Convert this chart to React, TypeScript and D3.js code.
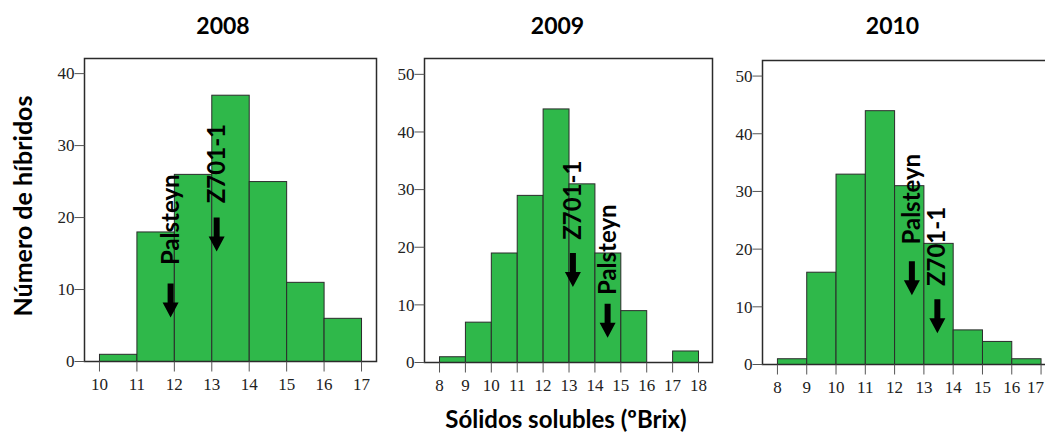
import React from "react";
import * as d3 from "d3";

// Histogram counts per year (bins of 1 ºBrix, listed by lower edge)
const years = ["2008", "2009", "2010"];

const binStarts2008 = [10, 11, 12, 13, 14, 15, 16];
const counts2008 = [1, 18, 26, 37, 25, 11, 6];

const binStarts2009 = [8, 9, 10, 11, 12, 13, 14, 15, 16, 17];
const counts2009 = [1, 7, 19, 29, 44, 31, 19, 9, 0, 2];

const binStarts2010 = [8, 9, 10, 11, 12, 13, 14, 15, 16];
const counts2010 = [1, 16, 33, 44, 31, 21, 6, 4, 1];

const xTicks2008 = [10, 11, 12, 13, 14, 15, 16, 17];
const xTicks2009 = [8, 9, 10, 11, 12, 13, 14, 15, 16, 17, 18];
const xTicks2010 = [8, 9, 10, 11, 12, 13, 14, 15, 16, 17];

const yTicks2008 = [0, 10, 20, 30, 40];
const yTicks2009 = [0, 10, 20, 30, 40, 50];
const yTicks2010 = [0, 10, 20, 30, 40, 50];

// Parent cultivars: ºBrix value, arrow tip (count units), bottom of label (count units)
const markerNames2008 = ["Palsteyn", "Z701-1"];
const markerBrix2008 = [11.9, 13.13];
const markerTip2008 = [6.1, 15.3];
const markerLabel2008 = [13.4, 22.0];

const markerNames2009 = ["Z701-1", "Palsteyn"];
const markerBrix2009 = [13.15, 14.49];
const markerTip2009 = [13.1, 4.3];
const markerLabel2009 = [21.3, 11.7];

const markerNames2010 = ["Palsteyn", "Z701-1"];
const markerBrix2010 = [12.59, 13.46];
const markerTip2010 = [12.0, 5.4];
const markerLabel2010 = [20.8, 13.6];

const yAxisTitle = "Número de híbridos";
const xAxisTitle = "Sólidos solubles (ºBrix)";

const W = 1045;
const H = 437;
const GREEN = "#2fb84a";
const LINE = "#2b2b2b";
const BOLD = "Lato, 'Open Sans', sans-serif";
const SERIF = "'Liberation Serif', 'DejaVu Serif', serif";

type Panel = {
  title: string;
  titleX: number;
  starts: number[];
  counts: number[];
  xTicks: number[];
  yTicks: number[];
  xDomain: [number, number];
  yMax: number;
  box: { left: number; right: number; top: number; bottom: number };
  names: string[];
  brix: number[];
  tips: number[];
  labels: number[];
};

const panels: Panel[] = [
  {
    title: years[0],
    titleX: 223,
    starts: binStarts2008,
    counts: counts2008,
    xTicks: xTicks2008,
    yTicks: yTicks2008,
    xDomain: [9.6, 17.4],
    yMax: 42.1,
    box: { left: 84.5, right: 376.5, top: 58.5, bottom: 361.5 },
    names: markerNames2008,
    brix: markerBrix2008,
    tips: markerTip2008,
    labels: markerLabel2008,
  },
  {
    title: years[1],
    titleX: 557.5,
    starts: binStarts2009,
    counts: counts2009,
    xTicks: xTicks2009,
    yTicks: yTicks2009,
    xDomain: [7.42, 18.54],
    yMax: 52.75,
    box: { left: 424.5, right: 712.5, top: 58.5, bottom: 362.5 },
    names: markerNames2009,
    brix: markerBrix2009,
    tips: markerTip2009,
    labels: markerLabel2009,
  },
  {
    title: years[2],
    titleX: 892.5,
    starts: binStarts2010,
    counts: counts2010,
    xTicks: xTicks2010,
    yTicks: yTicks2010,
    xDomain: [7.49, 17.5],
    yMax: 52.7,
    box: { left: 762.5, right: 1055.7, top: 60.5, bottom: 364.5 },
    names: markerNames2010,
    brix: markerBrix2010,
    tips: markerTip2010,
    labels: markerLabel2010,
  },
];

function HistPanel({ p }: { p: Panel }) {
  const { box } = p;
  const x = d3.scaleLinear().domain(p.xDomain).range([box.left, box.right]);
  const y = d3.scaleLinear().domain([0, p.yMax]).range([box.bottom, box.top]);

  // Downward block arrow, tip at (0,0)
  const arrowLen = 34;
  const headLen = 15;
  const shaftHalf = 3;
  const headHalf = 8;
  const arrowPath = d3.line()([
    [-shaftHalf, -arrowLen],
    [shaftHalf, -arrowLen],
    [shaftHalf, -headLen],
    [headHalf, -headLen],
    [0, 0],
    [-headHalf, -headLen],
    [-shaftHalf, -headLen],
  ]) + "Z";

  return (
    <g>
      <text
        x={p.titleX}
        y={34}
        textAnchor="middle"
        fontFamily={BOLD}
        fontWeight={700}
        fontSize={23}
        fill="#000"
      >
        {p.title}
      </text>

      {/* bars */}
      {p.starts.map((s, i) =>
        p.counts[i] > 0 ? (
          <rect
            key={i}
            x={x(s)}
            y={y(p.counts[i])}
            width={x(s + 1) - x(s)}
            height={y(0) - y(p.counts[i])}
            fill={GREEN}
            stroke={LINE}
            strokeWidth={1}
          />
        ) : null
      )}

      {/* frame */}
      <rect
        x={box.left}
        y={box.top}
        width={box.right - box.left}
        height={box.bottom - box.top}
        fill="none"
        stroke={LINE}
        strokeWidth={1.5}
      />

      {/* y axis ticks */}
      {p.yTicks.map((t) => (
        <g key={"y" + t}>
          <line
            x1={box.left - 10}
            x2={box.left}
            y1={y(t)}
            y2={y(t)}
            stroke="#555"
            strokeWidth={1}
          />
          <text
            x={box.left - 10}
            y={y(t)}
            dy="0.34em"
            textAnchor="end"
            fontFamily={SERIF}
            fontSize={17}
            fill="#222"
          >
            {t}
          </text>
        </g>
      ))}

      {/* x axis ticks; a label that would run past the page edge is kept inside it */}
      {p.xTicks.map((t) => {
        const tx = x(t);
        const overflow = tx + 9 > W;
        return (
          <g key={"x" + t}>
            <line
              x1={tx}
              x2={tx}
              y1={box.bottom}
              y2={box.bottom + 10}
              stroke="#555"
              strokeWidth={1}
            />
            <text
              x={overflow ? W - 1 : tx}
              y={box.bottom + 28}
              textAnchor={overflow ? "end" : "middle"}
              fontFamily={SERIF}
              fontSize={17}
              fill="#222"
            >
              {t}
            </text>
          </g>
        );
      })}

      {/* parent markers */}
      {p.names.map((n, i) => (
        <g key={"m" + i}>
          <path
            d={arrowPath}
            transform={`translate(${x(p.brix[i])},${y(p.tips[i])})`}
            fill="#000"
          />
          <text
            transform={`translate(${x(p.brix[i]) + 8},${y(p.labels[i])}) rotate(-90)`}
            fontFamily={BOLD}
            fontWeight={700}
            fontSize={24}
            fill="#000"
          >
            {n}
          </text>
        </g>
      ))}
    </g>
  );
}

export default function App() {
  return (
    <svg
      width={W}
      height={H}
      viewBox={`0 0 ${W} ${H}`}
      style={{ position: "absolute", left: 0, top: 0, background: "#fff" }}
    >
      <defs>
        <clipPath id="page">
          <rect x={0} y={0} width={W} height={H} />
        </clipPath>
      </defs>
      <g clipPath="url(#page)">
        {panels.map((p) => (
          <HistPanel key={p.title} p={p} />
        ))}
        <text
          transform={`translate(32,206) rotate(-90)`}
          textAnchor="middle"
          fontFamily={BOLD}
          fontWeight={700}
          fontSize={25}
          fill="#000"
        >
          {yAxisTitle}
        </text>
        <text
          x={566}
          y={428}
          textAnchor="middle"
          fontFamily={BOLD}
          fontWeight={700}
          fontSize={24}
          fill="#000"
        >
          {xAxisTitle}
        </text>
      </g>
    </svg>
  );
}
